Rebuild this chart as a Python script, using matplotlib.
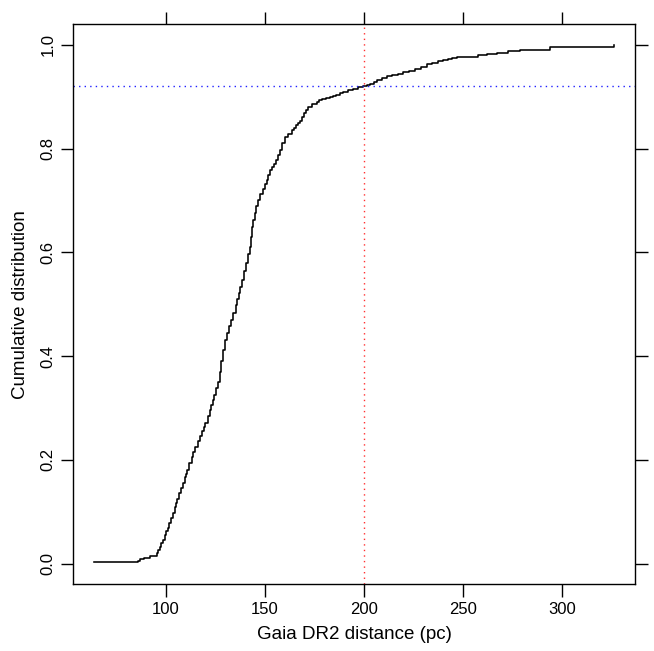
import matplotlib
matplotlib.use("Agg")
import matplotlib.pyplot as plt

plt.rcParams['font.family'] = ['Liberation Sans', 'DejaVu Sans']

distance = [64.0, 86.0, 87.0, 89.0, 92.1, 95.5, 96.3, 97.0, 97.9, 98.8,
            99.6, 100.3, 101.0, 101.9, 102.8, 103.8, 104.6, 105.3, 106.0, 107.0,
            107.9, 108.9, 109.9, 110.5, 111.0, 112.0, 113.1, 114.0, 115.0, 116.2,
            117.3, 118.5, 119.3, 120.0, 121.2, 122.3, 123.0, 123.8, 124.5, 125.5,
            126.5, 127.3, 128.0, 129.0, 129.9, 131.0, 132.0, 133.0, 134.1, 135.4,
            136.2, 137.0, 137.6, 138.3, 139.4, 140.5, 141.5, 142.5, 143.2, 143.7,
            144.2, 145.0, 145.8, 146.7, 147.8, 149.0, 150.0, 150.9, 151.7, 152.5,
            153.6, 154.7, 155.8, 156.7, 157.6, 158.8, 160.1, 161.8, 163.5, 164.5,
            165.5, 166.6, 167.7, 168.8, 170.0, 171.0, 171.9, 174.0, 176.1, 177.5,
            179.0, 181.0, 182.8, 184.5, 186.0, 188.0, 189.6, 192.0, 194.6, 197.0,
            199.7, 201.5, 203.0, 205.0, 206.4, 209.0, 211.4, 214.0, 217.3, 219.8,
            222.5, 225.7, 228.5, 231.6, 234.5, 237.5, 240.0, 242.5, 244.5, 246.8,
            257.6, 262.0, 267.0, 272.5, 278.7, 293.8, 326.1]
cdf = [0.003, 0.005, 0.008, 0.011, 0.014, 0.021, 0.026, 0.032, 0.039, 0.046,
       0.055, 0.062, 0.068, 0.078, 0.088, 0.098, 0.108, 0.116, 0.125, 0.136,
       0.146, 0.156, 0.167, 0.173, 0.180, 0.193, 0.206, 0.215, 0.225, 0.236,
       0.245, 0.256, 0.263, 0.270, 0.284, 0.296, 0.306, 0.315, 0.325, 0.338,
       0.350, 0.370, 0.390, 0.411, 0.431, 0.445, 0.458, 0.470, 0.482, 0.498,
       0.510, 0.522, 0.534, 0.546, 0.563, 0.580, 0.596, 0.611, 0.630, 0.648,
       0.662, 0.675, 0.690, 0.700, 0.712, 0.722, 0.731, 0.739, 0.749, 0.758,
       0.765, 0.771, 0.777, 0.787, 0.797, 0.810, 0.822, 0.828, 0.835, 0.840,
       0.845, 0.850, 0.854, 0.861, 0.868, 0.874, 0.880, 0.885, 0.890, 0.893,
       0.895, 0.897, 0.899, 0.902, 0.904, 0.907, 0.909, 0.912, 0.915, 0.918,
       0.920, 0.923, 0.925, 0.929, 0.933, 0.936, 0.939, 0.941, 0.943, 0.947,
       0.950, 0.954, 0.958, 0.963, 0.965, 0.968, 0.970, 0.972, 0.974, 0.976,
       0.981, 0.983, 0.985, 0.988, 0.990, 0.995, 1.000]

cut_distance = 200
cut_fraction = 0.92
x_ticks = [100, 150, 200, 250, 300]
y_ticks = [0.0, 0.2, 0.4, 0.6, 0.8, 1.0]

fig = plt.figure(figsize=(6.54, 6.51), dpi=100)
ax = fig.add_axes([0.1121, 0.1025, 0.9709 - 0.1121, 0.9631 - 0.1025])

ax.step(distance, cdf, where='post', color='black', lw=1.15)
ax.axvline(cut_distance, color='#ff3030', lw=1.0, ls=(0, (1, 3)))
ax.axhline(cut_fraction, color='#2020ff', lw=1.0, ls=(0, (1, 3)))

span = distance[-1] - distance[0]
ax.set_xlim(distance[0] - 0.04 * span, distance[-1] + 0.04 * span)
ax.set_ylim(-0.04, 1.04)

ax.set_xticks(x_ticks)
ax.set_yticks(y_ticks)
ax.set_yticklabels([f"{v:.1f}" for v in y_ticks], rotation=90, va='center')
ax.tick_params(axis='both', direction='out', length=9, width=1.0, labelsize=12,
               top=True, right=True, labeltop=False, labelright=False, pad=4)
for s in ax.spines.values():
    s.set_linewidth(1.0)

ax.set_xlabel("Gaia DR2 distance (pc)", fontsize=13.5, labelpad=6)
ax.set_ylabel("Cumulative distribution", fontsize=13.5, labelpad=8)

fig.savefig("out.png", dpi=100)
